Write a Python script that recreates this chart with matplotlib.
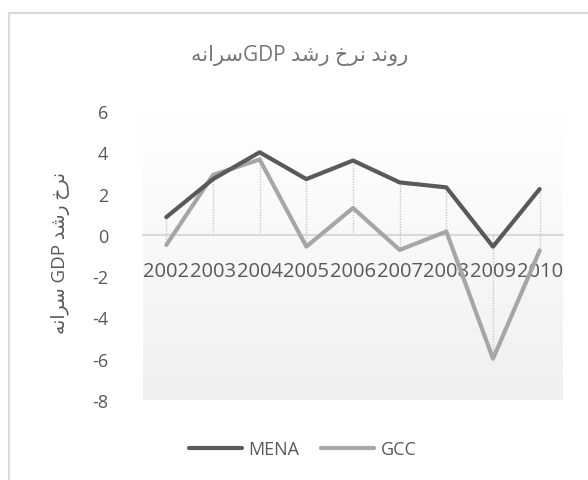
import re
import numpy as np
import matplotlib
matplotlib.use("Agg")
import matplotlib.pyplot as plt
from matplotlib.colors import LinearSegmentedColormap

years = ["2002", "2003", "2004", "2005", "2006", "2007", "2008", "2009", "2010"]
mena = [0.86, 2.7, 4.0, 2.7, 3.6, 2.54, 2.3, -0.57, 2.22]
gcc = [-0.49, 2.9, 3.65, -0.57, 1.3, -0.73, 0.16, -6.0, -0.76]
yticks = [6, 4, 2, 0, -2, -4, -6, -8]

title = "روند نرخ رشد GDPسرانه"
ylabel = "نرخ رشد GDP سرانه"

# matplotlib has no arabic shaping / bidi, so do it by hand for the letters used
FORMS = {
    "ا": ("\uFE8D", "\uFE8E", None, None),
    "د": ("\uFEA9", "\uFEAA", None, None),
    "ر": ("\uFEAD", "\uFEAE", None, None),
    "و": ("\uFEED", "\uFEEE", None, None),
    "خ": ("\uFEA5", "\uFEA6", "\uFEA7", "\uFEA8"),
    "س": ("\uFEB1", "\uFEB2", "\uFEB3", "\uFEB4"),
    "ش": ("\uFEB5", "\uFEB6", "\uFEB7", "\uFEB8"),
    "ن": ("\uFEE5", "\uFEE6", "\uFEE7", "\uFEE8"),
    "ه": ("\uFEE9", "\uFEEA", "\uFEEB", "\uFEEC"),
}


def shape(run):
    out = []
    for i, ch in enumerate(run):
        if ch not in FORMS:
            out.append(ch)
            continue
        prev_j = i > 0 and run[i - 1] in FORMS and FORMS[run[i - 1]][2] is not None
        next_j = (i < len(run) - 1 and run[i + 1] in FORMS
                  and FORMS[ch][2] is not None)
        iso, fin, ini, med = FORMS[ch]
        if prev_j and next_j:
            out.append(med)
        elif prev_j:
            out.append(fin)
        elif next_j:
            out.append(ini)
        else:
            out.append(iso)
    return "".join(out)


def fa(text):
    runs = re.findall(r"[A-Za-z0-9]+|[^A-Za-z0-9]+", text)
    vis = []
    for r in reversed(runs):
        if re.match(r"[A-Za-z0-9]", r):
            vis.append(r)
        else:
            vis.append(shape(r)[::-1])
    return "".join(vis)


FAM = ["Open Sans", "DejaVu Sans"]
plt.rcParams["font.family"] = FAM

fig = plt.figure(figsize=(5.88, 4.81), dpi=100)
ax = fig.add_axes([143 / 588, 1 - 401 / 481, 420 / 588, 289 / 481])

x = np.arange(len(years))

# spine position first: it resets the tick labels
for s in ["top", "right", "left"]:
    ax.spines[s].set_visible(False)
ax.spines["bottom"].set_position(("data", 0))
ax.spines["bottom"].set_color("#d9d9d9")
ax.spines["bottom"].set_linewidth(1.5)
ax.spines["bottom"].set_zorder(1.5)

# plot area gradient
cmap = LinearSegmentedColormap.from_list("bg", ["#ffffff", "#f0f0f0"])
ax.imshow(np.linspace(0, 1, 256).reshape(-1, 1), cmap=cmap, aspect="auto",
          extent=[-0.5, len(years) - 0.5, -8, 6], origin="upper", zorder=0)

# drop lines
lo = np.minimum(np.minimum(mena, gcc), 0)
hi = np.maximum(np.maximum(mena, gcc), 0)
ax.vlines(x, lo, hi, colors="#c8c8c8", linestyles=(0, (1, 1)), lw=1, zorder=1)

ax.plot(x, mena, color="#595959", lw=3, solid_capstyle="round",
        solid_joinstyle="round", label="MENA", zorder=3)
ax.plot(x, gcc, color="#a6a6a6", lw=3, solid_capstyle="round",
        solid_joinstyle="round", label="GCC", zorder=2)

ax.set_xlim(-0.5, len(years) - 0.5)
ax.set_ylim(-8, 6)
ax.set_xticks(x)
ax.set_xticklabels(years, fontsize=14.5, color="#595959")
ax.set_yticks(yticks)
ax.set_yticklabels([str(v) for v in yticks], fontsize=13, color="#595959")
ax.tick_params(axis="both", length=0)
ax.tick_params(axis="y", pad=25)
ax.tick_params(axis="x", pad=19)

fig.text(300 / 588, 1 - 55 / 481, fa(title), ha="center", va="center",
         fontsize=15, color="#757575", family=FAM)
fig.text(60 / 588, 1 - 253 / 481, fa(ylabel), ha="center", va="center",
         rotation=90, fontsize=13.5, color="#595959", family=FAM)

leg = fig.legend(loc="center", bbox_to_anchor=(303 / 588, 1 - 450 / 481),
                 ncol=2, frameon=False, fontsize=13, handlelength=2.9,
                 handletextpad=0.4, columnspacing=1.2)
for t in leg.get_texts():
    t.set_color("#595959")

# chart border (cropped on the right and bottom)
fig.add_artist(plt.Line2D([9 / 588, 9 / 588], [0, 1 - 14 / 481],
                          transform=fig.transFigure, color="#d9d9d9", lw=1.5))
fig.add_artist(plt.Line2D([9 / 588, 1], [1 - 14 / 481, 1 - 14 / 481],
                          transform=fig.transFigure, color="#d9d9d9", lw=1.5))

fig.savefig("out.png", dpi=100)
